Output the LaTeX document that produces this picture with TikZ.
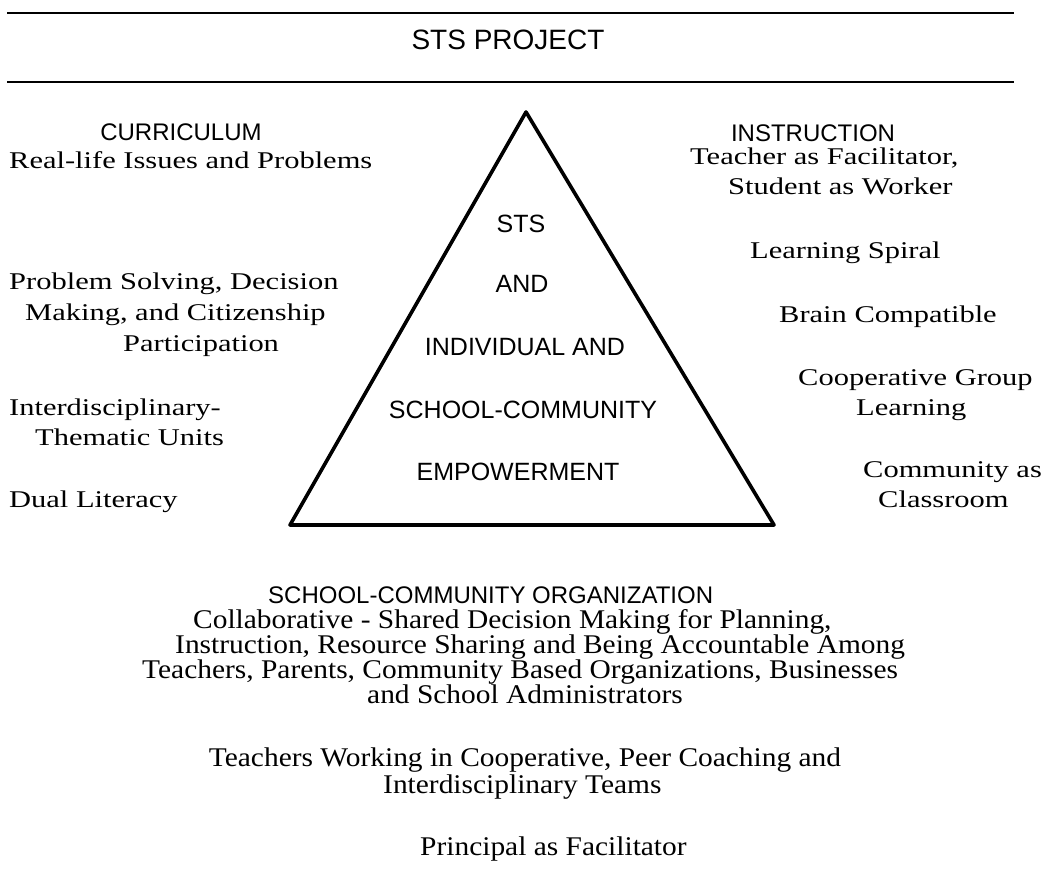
\documentclass[tikz,border=0pt]{standalone}
\usepackage{fontspec}
\setmainfont{Liberation Serif}
\newfontfamily\sidefont[FakeStretch=1.27]{Liberation Serif}
\newfontfamily\lowfont[FakeStretch=1.09]{Liberation Serif}
\newfontfamily\headfont{Liberation Sans}
\begin{document}
\begin{tikzpicture}[x=1pt,y=-1pt,
  rule/.style={line width=1.8pt},
  pyramid/.style={line width=3.6pt,line join=round},
  titletext/.style={anchor=base,inner sep=0pt,font=\headfont\fontsize{28}{28}\selectfont},
  headtext/.style={anchor=base,inner sep=0pt,font=\headfont\fontsize{24}{24}\selectfont},
  tritext/.style={anchor=base,inner sep=0pt,font=\headfont\fontsize{25}{25}\selectfont},
  sidetext/.style={anchor=base west,inner sep=0pt,font=\sidefont\fontsize{24}{29}\selectfont},
  lowtext/.style={anchor=base west,inner sep=0pt,font=\lowfont\fontsize{27}{27}\selectfont},
  lowmid/.style={anchor=base,inner sep=0pt,font=\lowfont\fontsize{27}{27}\selectfont}]
\useasboundingbox (0,0) rectangle (1043,875);

% header rules and title
\coordinate (r1a) at (7,13);   \coordinate (r1b) at (1014,13);
\coordinate (r2a) at (7,82);   \coordinate (r2b) at (1014,82);
\draw[rule] (r1a) -- (r1b);
\draw[rule] (r2a) -- (r2b);
\node[titletext] (title) at (508,50) {STS PROJECT};

% central triangle
\coordinate (apex) at (526,112);
\coordinate (bl) at (290,525);
\coordinate (br) at (774,525);
\draw[pyramid] (apex) -- (br) -- (bl) -- cycle;
\node[tritext] (t1) at (521,232) {STS};
\node[tritext] (t2) at (522,292) {AND};
\node[tritext] (t3) at (525,355) {INDIVIDUAL AND};
\node[tritext] (t4) at (523,418) {SCHOOL-COMMUNITY};
\node[tritext] (t5) at (518,480) {EMPOWERMENT};

% curriculum column
\node[headtext] (cur) at (181,140) {CURRICULUM};
\node[sidetext] (c1) at (9,168) {Real-life Issues and Problems};
\node[sidetext] (c2) at (9,289) {Problem Solving, Decision};
\node[sidetext] (c3) at (25,320) {Making, and Citizenship};
\node[sidetext] (c4) at (123,351) {Participation};
\node[sidetext] (c5) at (9,415) {Interdisciplinary-};
\node[sidetext] (c6) at (35,445) {Thematic Units};
\node[sidetext] (c7) at (9,507) {Dual Literacy};

% instruction column
\node[headtext] (ins) at (813,141) {INSTRUCTION};
\node[sidetext] (i1) at (690,164) {Teacher as Facilitator,};
\node[sidetext] (i2) at (728,194) {Student as Worker};
\node[sidetext] (i3) at (750,258) {Learning Spiral};
\node[sidetext] (i4) at (779,322) {Brain Compatible};
\node[sidetext] (i5) at (798,385) {Cooperative Group};
\node[sidetext] (i6) at (856,415) {Learning};
\node[sidetext] (i7) at (863,477) {Community as};
\node[sidetext] (i8) at (878,507) {Classroom};

% school-community organization block
\node[headtext,anchor=base west] (org) at (268,603) {SCHOOL-COMMUNITY ORGANIZATION};
\node[lowtext] (o1) at (193,628) {Collaborative - Shared Decision Making for Planning,};
\node[lowtext] (o2) at (175,653) {Instruction, Resource Sharing and Being Accountable Among};
\node[lowtext] (o3) at (142,678) {Teachers, Parents, Community Based Organizations, Businesses};
\node[lowtext] (o4) at (367,703) {and School Administrators};
\node[lowmid] (o5) at (525,766) {Teachers Working in Cooperative, Peer Coaching and};
\node[lowtext] (o6) at (383,793) {Interdisciplinary Teams};
\node[lowtext] (o7) at (420,855) {Principal as Facilitator};
\end{tikzpicture}
\end{document}
